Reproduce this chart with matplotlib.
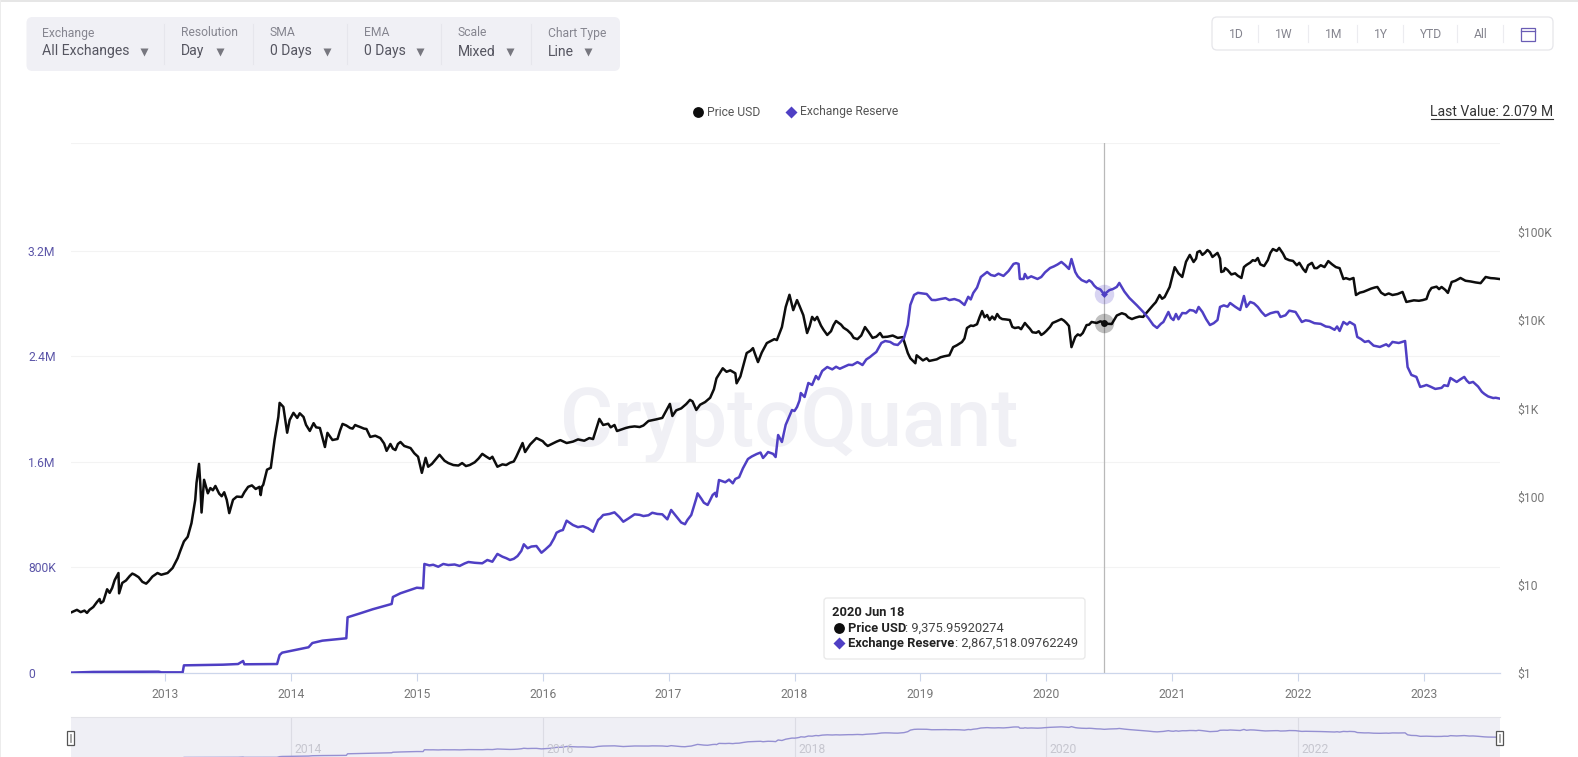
import matplotlib
matplotlib.use("Agg")
import matplotlib.pyplot as plt
from matplotlib.patches import FancyBboxPatch, Rectangle
from matplotlib.ticker import FuncFormatter

plt.rcParams['font.family'] = ['Roboto', 'DejaVu Sans']

# -------------------------------
# Data (dates are decimal years)
# -------------------------------
price_dates = [
    2012.26, 2012.30, 2012.33, 2012.40, 2012.46, 2012.51, 2012.54, 2012.58, 2012.60, 2012.63,
    2012.635, 2012.66, 2012.72, 2012.76, 2012.82, 2012.87, 2012.94, 2013.02, 2013.10, 2013.15,
    2013.21, 2013.24, 2013.25, 2013.27, 2013.28, 2013.29, 2013.31, 2013.34, 2013.40, 2013.45,
    2013.49, 2013.51, 2013.54, 2013.61, 2013.66, 2013.75, 2013.76, 2013.77, 2013.78, 2013.81,
    2013.84, 2013.87, 2013.90, 2013.91, 2013.94, 2013.97, 2013.99, 2014.02, 2014.10, 2014.15,
    2014.18, 2014.23, 2014.27, 2014.29, 2014.33, 2014.37, 2014.41, 2014.47, 2014.51, 2014.55,
    2014.60, 2014.63, 2014.71, 2014.76, 2014.79, 2014.83, 2014.87, 2014.95, 2015.01, 2015.04,
    2015.07, 2015.09, 2015.18, 2015.29, 2015.42, 2015.52, 2015.60, 2015.64, 2015.74, 2015.79,
    2015.84, 2015.86, 2015.95, 2016.04, 2016.14, 2016.19, 2016.37, 2016.40, 2016.45, 2016.48,
    2016.57, 2016.59, 2016.69, 2016.77, 2016.84, 2016.95, 2017.01, 2017.03, 2017.17, 2017.22,
    2017.33, 2017.38, 2017.43, 2017.53, 2017.54, 2017.59, 2017.62, 2017.67, 2017.71, 2017.78,
    2017.84, 2017.86, 2017.90, 2017.93, 2017.96, 2017.99, 2018.02, 2018.07, 2018.10, 2018.14,
    2018.18, 2018.26, 2018.33, 2018.42, 2018.50, 2018.56, 2018.62, 2018.68, 2018.70, 2018.86,
    2018.90, 2018.96, 2018.97, 2019.10, 2019.23, 2019.26, 2019.33, 2019.37, 2019.42, 2019.49,
    2019.53, 2019.55, 2019.61, 2019.65, 2019.71, 2019.75, 2019.80, 2019.83, 2019.89, 2019.96,
    2020.00, 2020.05, 2020.12, 2020.16, 2020.20, 2020.23, 2020.29, 2020.36, 2020.40, 2020.46,
    2020.52, 2020.60, 2020.68, 2020.77, 2020.78, 2020.85, 2020.90, 2020.94, 2020.98, 2021.02,
    2021.08, 2021.14, 2021.17, 2021.20, 2021.24, 2021.28, 2021.32, 2021.36, 2021.39, 2021.44,
    2021.55, 2021.59, 2021.64, 2021.68, 2021.73, 2021.80, 2021.85, 2021.93, 2022.01, 2022.06,
    2022.11, 2022.15, 2022.24, 2022.33, 2022.36, 2022.44, 2022.46, 2022.55, 2022.63, 2022.69,
    2022.83, 2022.86, 2023.02, 2023.06, 2023.14, 2023.19, 2023.22, 2023.29, 2023.45, 2023.49,
    2023.60,
]
price_usd = [
    4.9, 5.2, 4.9, 5.2, 6.4, 6.5, 8.9, 9.2, 11.3, 13.6,
    8.0, 10.5, 12.6, 13.0, 10.8, 11.0, 13.6, 13.6, 20, 31,
    50, 92, 143, 235, 140, 66, 155, 109, 132, 101,
    92, 65, 92, 99, 129, 129, 104, 130, 136, 202,
    212, 440, 800, 1155, 1040, 530, 740, 890, 800, 555,
    680, 600, 365, 528, 438, 450, 667, 600, 648, 615,
    584, 475, 461, 330, 395, 337, 416, 355, 283, 186,
    275, 218, 298, 228, 228, 305, 283, 218, 242, 283,
    405, 320, 461, 375, 437, 405, 461, 449, 760, 648,
    648, 554, 615, 615, 720, 780, 1125, 820, 1250, 960,
    1320, 2190, 2850, 2500, 1925, 2930, 4240, 4820, 3350, 5500,
    6100, 5950, 8360, 14100, 19400, 13000, 16900, 11400, 7150, 10900,
    10900, 6800, 9800, 7700, 6100, 8360, 6300, 7150, 6430, 6430,
    4240, 3250, 4000, 3520, 4000, 4950, 5650, 8150, 8600, 12700,
    11450, 10050, 11750, 10300, 10050, 8150, 7900, 9300, 7300, 6800,
    7550, 9300, 10300, 9300, 4950, 6450, 7160, 9550, 9300, 9376,
    9060, 12000, 10300, 10900, 11400, 14900, 19300, 18300, 23800, 39900,
    30900, 55000, 45700, 59000, 55000, 62500, 52100, 57900, 35200, 37100,
    30100, 42300, 47900, 50700, 41100, 64100, 66000, 47900, 44700, 35200,
    44700, 38900, 46800, 38900, 29300, 30100, 19300, 21900, 23800, 19300,
    20900, 16100, 17400, 23200, 23800, 20400, 27100, 30100, 26300, 30900,
    29300,
]
# finer readings of the small swings between the points above
price_detail_dates = [
    2012.36, 2012.38, 2012.43, 2012.48, 2012.49, 2012.56, 2012.69, 2012.74, 2012.79, 2012.85,
    2012.90, 2012.97, 2013.06, 2013.12, 2013.18, 2013.36, 2013.38, 2013.43, 2013.47, 2013.57,
    2013.63, 2013.69, 2013.72, 2014.05, 2014.07, 2014.12, 2014.20, 2014.25, 2014.39, 2014.44,
    2014.49, 2014.53, 2014.58, 2014.67, 2014.74, 2014.81, 2014.85, 2014.90, 2014.98, 2015.12,
    2015.15, 2015.22, 2015.25, 2015.33, 2015.36, 2015.39, 2015.46, 2015.49, 2015.55, 2015.58,
    2015.68, 2015.71, 2015.77, 2015.90, 2016.00, 2016.02, 2016.08, 2016.11, 2016.24, 2016.28,
    2016.33, 2016.52, 2016.54, 2016.63, 2016.66, 2016.73, 2016.80, 2016.90, 2017.06, 2017.10,
    2017.14, 2017.19, 2017.25, 2017.29, 2017.36, 2017.46, 2017.49, 2017.57, 2017.65, 2017.69,
    2017.74, 2017.81, 2018.04, 2018.12, 2018.16, 2018.21, 2018.23, 2018.29, 2018.31, 2018.37,
    2018.39, 2018.45, 2018.47, 2018.53, 2018.59, 2018.65, 2018.74, 2018.78, 2018.82, 2018.92,
    2018.99, 2019.02, 2019.05, 2019.07, 2019.13, 2019.16, 2019.19, 2019.29, 2019.35, 2019.40,
    2019.45, 2019.47, 2019.51, 2019.57, 2019.59, 2019.63, 2019.68, 2019.73, 2019.78, 2019.85,
    2019.87, 2019.92, 2019.94, 2019.98, 2020.03, 2020.08, 2020.14, 2020.18, 2020.25, 2020.27,
    2020.32, 2020.34, 2020.43, 2020.49, 2020.56, 2020.63, 2020.65, 2020.71, 2020.74, 2020.82,
    2020.87, 2020.92, 2021.05, 2021.11, 2021.19, 2021.22, 2021.26, 2021.30, 2021.34, 2021.38,
    2021.41, 2021.42, 2021.47, 2021.50, 2021.52, 2021.57, 2021.62, 2021.66, 2021.70, 2021.76,
    2021.78, 2021.83, 2021.88, 2021.90, 2021.96, 2021.99, 2022.04, 2022.08, 2022.13, 2022.18,
    2022.21, 2022.27, 2022.30, 2022.38, 2022.41, 2022.49, 2022.52, 2022.58, 2022.61, 2022.66,
    2022.72, 2022.75, 2022.79, 2022.92, 2022.96, 2022.99, 2023.04, 2023.10, 2023.12, 2023.17,
    2023.25, 2023.27, 2023.33, 2023.37, 2023.41, 2023.53, 2023.56,
]
price_detail_usd = [
    5.1, 4.8, 5.6, 6.9, 6.2, 8.1, 11.2, 13.4, 12.2, 10.3,
    12.4, 13.0, 15.5, 24, 35, 125, 118, 108, 112, 100,
    112, 134, 122, 780, 880, 650, 610, 470, 560, 640,
    590, 630, 590, 490, 400, 350, 395, 375, 310, 235,
    265, 255, 240, 225, 240, 222, 245, 270, 285, 268,
    232, 228, 250, 390, 425, 395, 400, 420, 420, 445,
    430, 670, 610, 580, 600, 625, 640, 750, 950, 1000,
    1120, 1200, 1100, 1180, 1650, 2600, 2700, 2300, 4500, 4000,
    4300, 5800, 14500, 8500, 10000, 8700, 7800, 7500, 8800, 8900,
    8200, 7000, 6300, 6700, 7300, 6500, 6500, 6700, 6300, 3700,
    3800, 3500, 3700, 3450, 3600, 3800, 3900, 5200, 6200, 8700,
    9000, 10800, 10800, 11000, 10200, 10700, 10200, 8400, 8300, 8600,
    8000, 7200, 7500, 7100, 8400, 9700, 9900, 8600, 6900, 6700,
    8800, 8900, 9700, 9100, 11300, 11600, 10800, 10700, 11000, 13300,
    16000, 17500, 34000, 46000, 50000, 61000, 58000, 59000, 55000, 50000,
    36000, 39000, 33000, 34000, 32000, 40000, 45000, 47000, 43000, 48000,
    58000, 61000, 57000, 50000, 47000, 42000, 38000, 42000, 39000, 42000,
    40000, 43000, 40000, 30000, 29000, 20500, 21000, 22800, 23500, 20500,
    20100, 19300, 19800, 16800, 16600, 16900, 21000, 24000, 22500, 22000,
    28000, 29000, 28000, 27500, 26800, 30000, 29800,
]

reserve_dates = [
    2012.25, 2012.43, 2012.95, 2012.97, 2013.14, 2013.15, 2013.46, 2013.58, 2013.62, 2013.63,
    2013.89, 2013.91, 2013.93, 2014.14, 2014.17, 2014.25, 2014.44, 2014.45, 2014.55, 2014.65,
    2014.80, 2014.81, 2014.87, 2015.00, 2015.05, 2015.06, 2015.17, 2015.21, 2015.34, 2015.41,
    2015.52, 2015.56, 2015.60, 2015.64, 2015.68, 2015.74, 2015.80, 2015.85, 2015.88, 2015.95,
    2015.99, 2016.06, 2016.11, 2016.16, 2016.19, 2016.24, 2016.36, 2016.40, 2016.44, 2016.48,
    2016.57, 2016.64, 2016.73, 2016.80, 2016.87, 2016.95, 2016.99, 2017.02, 2017.13, 2017.18,
    2017.22, 2017.23, 2017.31, 2017.35, 2017.38, 2017.40, 2017.51, 2017.56, 2017.63, 2017.70,
    2017.75, 2017.79, 2017.85, 2017.87, 2017.90, 2017.98, 2018.02, 2018.05, 2018.08, 2018.11,
    2018.14, 2018.22, 2018.26, 2018.39, 2018.46, 2018.54, 2018.60, 2018.65, 2018.69, 2018.76,
    2018.82, 2018.87, 2018.90, 2018.92, 2018.95, 2019.05, 2019.09, 2019.16, 2019.27, 2019.35,
    2019.42, 2019.50, 2019.53, 2019.59, 2019.66, 2019.74, 2019.78, 2019.79, 2019.82, 2019.83,
    2019.91, 2019.96, 2020.03, 2020.12, 2020.18, 2020.20, 2020.23, 2020.28, 2020.36, 2020.40,
    2020.46, 2020.53, 2020.58, 2020.66, 2020.77, 2020.85, 2020.88, 2020.93, 2020.97, 2021.01,
    2021.08, 2021.14, 2021.21, 2021.30, 2021.36, 2021.38, 2021.46, 2021.54, 2021.57, 2021.59,
    2021.62, 2021.68, 2021.74, 2021.82, 2021.86, 2021.98, 2022.03, 2022.09, 2022.25, 2022.33,
    2022.36, 2022.41, 2022.45, 2022.47, 2022.53, 2022.65, 2022.75, 2022.85, 2022.87, 2022.90,
    2022.94, 2022.97, 2023.02, 2023.09, 2023.19, 2023.21, 2023.26, 2023.32, 2023.36, 2023.39,
    2023.48, 2023.55, 2023.60,
]
reserve_btc = [
    3000, 8000, 10000, 5000, 5000, 58000, 63000, 68000, 91000, 66000,
    68000, 136000, 154000, 195000, 227000, 245000, 263000, 422000, 452000, 483000,
    523000, 576000, 604000, 646000, 642000, 826000, 805000, 826000, 811000, 841000,
    831000, 856000, 843000, 902000, 881000, 856000, 886000, 975000, 945000, 962000,
    911000, 970000, 1063000, 1083000, 1154000, 1121000, 1096000, 1070000, 1159000, 1197000,
    1217000, 1146000, 1202000, 1189000, 1214000, 1202000, 1164000, 1235000, 1127000, 1197000,
    1323000, 1361000, 1273000, 1349000, 1336000, 1462000, 1437000, 1483000, 1621000, 1659000,
    1629000, 1674000, 1636000, 1803000, 1750000, 1992000, 2015000, 2121000, 2091000, 2197000,
    2182000, 2288000, 2318000, 2318000, 2333000, 2333000, 2394000, 2432000, 2500000, 2508000,
    2485000, 2538000, 2636000, 2788000, 2864000, 2871000, 2826000, 2833000, 2833000, 2788000,
    2879000, 3015000, 3038000, 3008000, 3008000, 3099000, 3099000, 2985000, 2985000, 3023000,
    2993000, 3000000, 3068000, 3114000, 3061000, 3136000, 3038000, 2977000, 2962000, 2917000,
    2867518, 2909000, 2955000, 2841000, 2735000, 2636000, 2614000, 2659000, 2735000, 2674000,
    2727000, 2750000, 2773000, 2636000, 2674000, 2773000, 2803000, 2750000, 2856000, 2773000,
    2811000, 2773000, 2705000, 2735000, 2697000, 2735000, 2659000, 2667000, 2621000, 2591000,
    2659000, 2659000, 2636000, 2546000, 2508000, 2470000, 2508000, 2515000, 2318000, 2258000,
    2243000, 2167000, 2182000, 2152000, 2174000, 2235000, 2205000, 2243000, 2197000, 2205000,
    2114000, 2083000, 2079000,
]
reserve_detail_dates = [
    2015.10, 2015.13, 2015.25, 2015.30, 2015.38, 2015.46, 2015.71, 2015.77, 2015.83, 2015.91,
    2016.02, 2016.09, 2016.14, 2016.28, 2016.32, 2016.46, 2016.53, 2016.61, 2016.68, 2016.77,
    2016.84, 2016.91, 2017.07, 2017.10, 2017.15, 2017.26, 2017.28, 2017.33, 2017.37, 2017.45,
    2017.48, 2017.53, 2017.59, 2017.66, 2017.73, 2017.77, 2017.83, 2017.93, 2018.00, 2018.04,
    2018.17, 2018.19, 2018.30, 2018.33, 2018.36, 2018.43, 2018.50, 2018.52, 2018.57, 2018.62,
    2018.72, 2018.79, 2018.84, 2018.98, 2019.02, 2019.12, 2019.20, 2019.23, 2019.31, 2019.38,
    2019.40, 2019.45, 2019.48, 2019.56, 2019.62, 2019.70, 2019.76, 2019.85, 2019.88, 2019.93,
    2019.99, 2020.06, 2020.09, 2020.15, 2020.25, 2020.32, 2020.34, 2020.38, 2020.43, 2020.50,
    2020.56, 2020.62, 2020.72, 2020.81, 2020.91, 2020.99, 2021.03, 2021.05, 2021.11, 2021.17,
    2021.19, 2021.24, 2021.27, 2021.33, 2021.41, 2021.44, 2021.50, 2021.65, 2021.71, 2021.78,
    2021.84, 2021.90, 2021.93, 2022.00, 2022.06, 2022.13, 2022.18, 2022.22, 2022.29, 2022.31,
    2022.39, 2022.50, 2022.56, 2022.60, 2022.70, 2022.72, 2022.80, 2023.00, 2023.05, 2023.14,
    2023.16, 2023.29, 2023.34, 2023.43, 2023.46, 2023.51, 2023.57,
]
reserve_detail_btc = [
    815000, 820000, 818000, 822000, 830000, 835000, 870000, 865000, 925000, 958000,
    935000, 1020000, 1078000, 1105000, 1112000, 1175000, 1205000, 1180000, 1170000, 1198000,
    1195000, 1205000, 1175000, 1140000, 1160000, 1320000, 1290000, 1310000, 1365000, 1445000,
    1465000, 1470000, 1550000, 1640000, 1670000, 1650000, 1660000, 1880000, 1985000, 2065000,
    2250000, 2225000, 2300000, 2320000, 2305000, 2335000, 2355000, 2345000, 2375000, 2410000,
    2515000, 2490000, 2505000, 2880000, 2875000, 2825000, 2840000, 2825000, 2820000, 2850000,
    2830000, 2920000, 3000000, 3015000, 3025000, 3045000, 3105000, 2990000, 3005000, 2985000,
    3035000, 3080000, 3095000, 3090000, 3005000, 2960000, 2975000, 2935000, 2905000, 2900000,
    2925000, 2890000, 2785000, 2690000, 2645000, 2690000, 2720000, 2680000, 2725000, 2745000,
    2730000, 2735000, 2680000, 2650000, 2785000, 2775000, 2775000, 2800000, 2735000, 2725000,
    2735000, 2710000, 2745000, 2705000, 2672000, 2650000, 2645000, 2625000, 2600000, 2625000,
    2640000, 2530000, 2515000, 2480000, 2490000, 2475000, 2500000, 2175000, 2170000, 2160000,
    2180000, 2225000, 2215000, 2170000, 2130000, 2095000, 2085000,
]

# hovered day
hover_date = 2020.46
hover_price = 9375.95920274
hover_reserve = 2867518.09762249

year_ticks = list(range(2013, 2024))
mini_year_ticks = [2014, 2016, 2018, 2020, 2022]
reserve_ticks = [0, 800000, 1600000, 2400000, 3200000, 4015000]
reserve_labels = ['0', '800K', '1.6M', '2.4M', '3.2M', '']
price_ticks = [1, 10, 100, 1000, 10000, 100000]
price_labels = ['$1', '$10', '$100', '$1K', '$10K', '$100K']

# top bar: title, value, label x, arrow x
controls = [
    ('Exchange', 'All Exchanges', 42, 144),
    ('Resolution', 'Day', 181, 220),
    ('SMA', '0 Days', 270, 327),
    ('EMA', '0 Days', 364, 420),
    ('Scale', 'Mixed', 458, 510),
    ('Chart Type', 'Line', 548, 588),
]
control_dividers = [164.5, 253, 347, 441, 531]
range_buttons = [('1D', 1236), ('1W', 1284), ('1M', 1334), ('1Y', 1381), ('YTD', 1431), ('All', 1481)]
range_dividers = [1258, 1308, 1357, 1403, 1457, 1503]

BLACK = '#0d0d0d'
PURPLE = '#4f3fc4'
W, H = 1578, 757

# merge the coarse and fine readings by date
price_series = sorted(zip(price_dates + price_detail_dates, price_usd + price_detail_usd))
reserve_series = sorted(zip(reserve_dates + reserve_detail_dates, reserve_btc + reserve_detail_btc))
price_x = [p[0] for p in price_series]
price_y = [p[1] for p in price_series]
reserve_x = [p[0] for p in reserve_series]
reserve_y = [p[1] for p in reserve_series]

fig = plt.figure(figsize=(W / 100, H / 100), dpi=100, facecolor='white')


def box(left, top, right, bottom):
    # pixel box to figure fractions
    return [left / W, 1 - bottom / H, (right - left) / W, (bottom - top) / H]


# -------------------------------
# Main chart
# -------------------------------
fig.text(789 / W, 1 - 424 / H, 'CryptoQuant', fontsize=58.6, fontweight='medium', color='#f0f0f5',
         ha='center', va='center', zorder=-1)

# three layers: grid and ticks, then price, then reserve on top
ax = fig.add_axes(box(71, 143, 1500, 673), zorder=1)
ax.patch.set_visible(False)
ax2 = ax.twinx()
ax2.set_zorder(2)
ax2.patch.set_visible(False)
ax3 = fig.add_axes(box(71, 143, 1500, 673), zorder=3, sharex=ax)
ax3.patch.set_visible(False)
ax3.axis('off')

ax.axvline(hover_date, color='#b9b9b9', lw=0.9, zorder=1)
ax2.plot(price_x, price_y, color=BLACK, lw=1.8, solid_joinstyle='round')
ax3.plot(reserve_x, reserve_y, color=PURPLE, lw=1.8, solid_joinstyle='round')

ax3.plot([hover_date], [hover_reserve], 'o', ms=14, color=PURPLE, alpha=0.22, mec='none')
ax3.plot([hover_date], [hover_reserve], 'D', ms=3.5, color=PURPLE, mec='none')
ax2.plot([hover_date], [hover_price], 'o', ms=14, color='black', alpha=0.25, mec='none')
ax2.plot([hover_date], [hover_price], 'o', ms=5, color=BLACK, mec='none')

ax.set_xlim(2012.253, 2023.604)
ax.set_ylim(0, 4015000)
ax3.set_ylim(0, 4015000)
ax2.set_yscale('log')
ax2.set_ylim(1, 10 ** 6.009)

ax.set_xticks(year_ticks)
ax.xaxis.set_major_formatter(FuncFormatter(lambda v, p: str(int(v))))
ax.tick_params(axis='x', length=6, width=0.8, color='#ccd6eb', labelsize=8.7, labelcolor='#777777', pad=5)

ax.set_yticks(reserve_ticks)
ax.set_yticklabels(reserve_labels)
ax.tick_params(axis='y', length=0, labelsize=8.7, labelcolor='#5b55a8', pad=31)
for lab in ax.get_yticklabels():
    lab.set_ha('left')
ax.grid(axis='y', color='#f3f3f3', lw=0.8)
ax.set_axisbelow(True)

ax2.set_yticks(price_ticks)
ax2.set_yticklabels(price_labels)
ax2.minorticks_off()
ax2.tick_params(axis='y', length=0, labelsize=8.7, labelcolor='#777777', pad=12.5)

for a in (ax, ax2):
    for name in ('top', 'left', 'right'):
        a.spines[name].set_visible(False)
    a.spines['bottom'].set_color('#ccd6eb')
    a.spines['bottom'].set_linewidth(0.8)

# -------------------------------
# Range slider at the bottom
# -------------------------------
mini = fig.add_axes(box(71, 717, 1500, 757), facecolor='#efeff5')
mini.plot(reserve_x, reserve_y, color='#9590d2', lw=1)
mini.set_xlim(2012.253, 2023.604)
mini.set_ylim(100000, 4100000)
mini.set_yticks([])
mini.set_xticks(mini_year_ticks)
mini.set_xticklabels([])
mini.tick_params(axis='x', length=0)
mini.grid(axis='x', color='#dcdce4', lw=0.8)
mini.set_axisbelow(True)
for name in mini.spines:
    mini.spines[name].set_visible(False)
mini.spines['top'].set_visible(True)
mini.spines['top'].set_color('#e3e3e8')
for y in mini_year_ticks:
    mini.annotate(str(y), (y, 0), xycoords=('data', 'axes fraction'), xytext=(2.5, 1),
                  textcoords='offset points', fontsize=8.7, color='#c6c6cf', va='bottom', ha='left')

# -------------------------------
# Page chrome, drawn in pixels
# -------------------------------
ui = fig.add_axes([0, 0, 1, 1], zorder=10)
ui.set_xlim(0, W)
ui.set_ylim(H, 0)
ui.axis('off')
ui.patch.set_visible(False)

ui.add_patch(Rectangle((0, 0), W, 1.5, color='#e6e6e6', lw=0))
ui.add_patch(Rectangle((0, 0), 1.5, H, color='#ececec', lw=0))

ui.add_patch(FancyBboxPatch((26.5, 17), 593.5, 54, boxstyle='round,pad=0,rounding_size=6',
                            fc='#f0f0f5', ec='none'))
for title, value, x, arrow_x in controls:
    ui.text(x, 33, title, fontsize=8.7, color='#85858f', va='center')
    ui.text(x, 51.5, value, fontsize=10.1, color='#555560', va='center')
    ui.plot([arrow_x], [52], 'v', ms=5.2, color='#77777f', mec='none')
for x in control_dividers:
    ui.plot([x, x], [24, 64], color='#e6e6ec', lw=0.8)

ui.add_patch(FancyBboxPatch((1212, 17), 341, 33, boxstyle='round,pad=0,rounding_size=5',
                            fc='white', ec='#e6e6ea', lw=0.9))
for label, x in range_buttons:
    ui.text(x, 34, label, fontsize=8.7, color='#85858f', ha='center', va='center')
for x in range_dividers:
    ui.plot([x, x], [25, 42], color='#ececf0', lw=0.8)
# calendar icon
ui.add_patch(Rectangle((1521, 27.5), 14, 13, fc='none', ec='#6a5db5', lw=0.9))
ui.plot([1521, 1535], [31, 31], color='#6a5db5', lw=0.9)

# legend
ui.plot([698], [112], 'o', ms=7.8, color=BLACK, mec='none')
ui.text(707, 112, 'Price USD', fontsize=8.7, color='#555555', va='center')
ui.plot([791], [112], 'D', ms=6.3, color=PURPLE, mec='none')
ui.text(800, 112, 'Exchange Reserve', fontsize=8.7, color='#555555', va='center')

ui.text(1553, 112, 'Last Value: 2.079 M', fontsize=10.1, color='#333333', ha='right', va='center')
ui.plot([1431, 1553], [119, 119], color='#333333', lw=0.8)

# tooltip
ui.add_patch(FancyBboxPatch((824, 598), 261, 61, boxstyle='round,pad=0,rounding_size=3',
                            fc='white', ec='#e8e8e8', lw=0.9))
ui.text(832, 613, '2020 Jun 18', fontsize=9.3, fontweight='bold', color='#222222', va='center')
ui.plot([839], [628], 'o', ms=7.8, color=BLACK, mec='none')
ui.text(848, 628, 'Price USD', fontsize=9.3, fontweight='bold', color='#222222', va='center')
ui.text(905, 628, ': 9,375.95920274', fontsize=9.3, color='#444444', va='center')
ui.plot([839], [643], 'D', ms=6.3, color=PURPLE, mec='none')
ui.text(848, 643, 'Exchange Reserve', fontsize=9.3, fontweight='bold', color='#222222', va='center')
ui.text(955, 643, ': 2,867,518.09762249', fontsize=9.3, color='#444444', va='center')

# slider handles
for left in (67, 1496):
    ui.add_patch(Rectangle((left, 731), 7, 14, fc='white', ec='#555555', lw=0.9))
    ui.plot([left + 2.6, left + 2.6], [734, 742], color='#999999', lw=0.6)
    ui.plot([left + 4.4, left + 4.4], [734, 742], color='#999999', lw=0.6)

fig.savefig('out.png', dpi=100)
